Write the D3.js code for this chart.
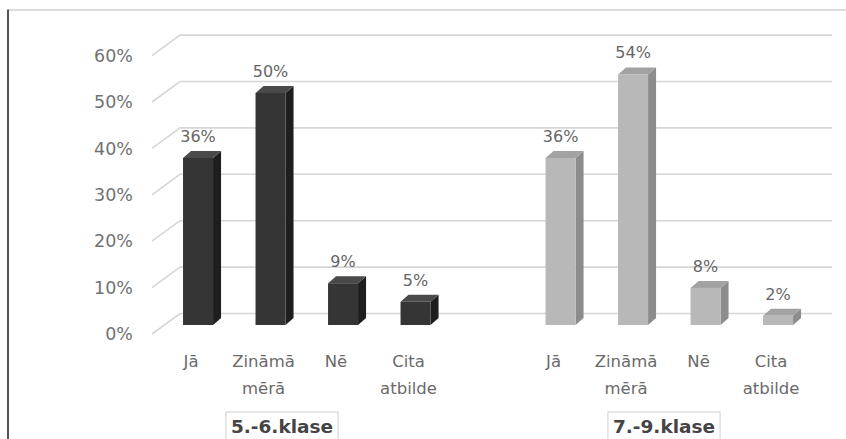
<!DOCTYPE html>
<html>
<head>
<meta charset="utf-8">
<script src="https://cdn.jsdelivr.net/npm/d3@7"></script>
<style>
  html, body { margin: 0; padding: 0; background: #fff; }
  svg { display: block; font-family: "DejaVu Sans", sans-serif; }
</style>
</head>
<body>
<svg id="chart" width="846" height="439"></svg>
<script>
// Survey answers by grade group (percent)
const categories = ["Jā", "Zināmā mērā", "Nē", "Cita atbilde"];
const groups = ["5.-6.klase", "7.-9.klase"];
const values56 = [36, 50, 9, 5];
const values79 = [36, 54, 8, 2];
const yTicks = [0, 10, 20, 30, 40, 50, 60];
const groupColors = [
  { front: "#353535", side: "#1e1e1e", top: "#4a4a4a" },
  { front: "#b8b8b8", side: "#8c8c8c", top: "#a2a2a2" }
];

const svg = d3.select("#chart");

// one slot per bar, with an empty slot between the two groups
const rows = [];
[values56, values79].forEach((vals, g) => {
  vals.forEach((v, i) => rows.push({ key: g + "-" + i, group: g, cat: categories[i], value: v }));
});
const slots = rows.filter(r => r.group === 0).map(r => r.key)
  .concat(["gap"], rows.filter(r => r.group === 1).map(r => r.key));

const x = d3.scaleBand().domain(slots).range([150.4, 825.7])
  .paddingInner(0.586).paddingOuter(0.45);
const y = d3.scaleLinear().domain([0, 60]).range([325, 46.6]);

// 3D offsets
const bdx = 8, bdy = -7;          // bar depth
const wallDx = 28;                // back wall left edge
const frontDy = 9, backDy = -11.5;
const gridRight = 832;

// frame
svg.append("line").attr("x1", 8).attr("x2", 846).attr("y1", 10).attr("y2", 10)
  .attr("stroke", "#d0d0d0").attr("stroke-width", 1.5);
svg.append("line").attr("x1", 8).attr("x2", 8).attr("y1", 9.5).attr("y2", 439)
  .attr("stroke", "#555").attr("stroke-width", 2);

// gridlines: side wall diagonal + back wall horizontal
const grid = svg.append("g").attr("fill", "none").attr("stroke", "#d6d6d6").attr("stroke-width", 1.6);
yTicks.forEach(t => {
  const yy = y(t);
  grid.append("path").attr("d",
    `M152,${yy + frontDy}L${152 + wallDx},${yy + backDy}L${gridRight},${yy + backDy}`);
});

// y axis labels on the front plane
const yAxis = d3.axisLeft(d3.scaleLinear().domain([0, 60]).range([325 + frontDy, 46.6 + frontDy]))
  .tickValues(yTicks).tickSize(0).tickPadding(0).tickFormat(d => d + "%");
svg.append("g").attr("transform", "translate(133,0)").call(yAxis)
  .call(g => g.select(".domain").remove())
  .call(g => g.selectAll("text").attr("fill", "#727272").attr("font-size", 17.5)
    .attr("font-family", "'DejaVu Sans', sans-serif"));

// bars
const bars = svg.append("g").selectAll("g.bar").data(rows).join("g").attr("class", "bar");
const w = x.bandwidth();
bars.append("path")
  .attr("d", d => {
    const x0 = x(d.key) + w, y0 = y(0), y1 = y(d.value);
    return `M${x0},${y1}L${x0 + bdx},${y1 + bdy}L${x0 + bdx},${y0 + bdy}L${x0},${y0}Z`;
  })
  .attr("fill", d => groupColors[d.group].side);
bars.append("path")
  .attr("d", d => {
    const x0 = x(d.key), y1 = y(d.value);
    return `M${x0},${y1}L${x0 + bdx},${y1 + bdy}L${x0 + w + bdx},${y1 + bdy}L${x0 + w},${y1}Z`;
  })
  .attr("fill", d => groupColors[d.group].top);
bars.append("rect")
  .attr("x", d => x(d.key)).attr("width", w)
  .attr("y", d => y(d.value)).attr("height", d => y(0) - y(d.value))
  .attr("fill", d => groupColors[d.group].front);

// value labels
bars.append("text")
  .attr("x", d => x(d.key) + w / 2)
  .attr("y", d => y(d.value) - 16)
  .attr("text-anchor", "middle").attr("font-size", 16).attr("fill", "#666")
  .text(d => d.value + "%");

// category labels (wrapped to two lines)
const catLabels = svg.append("g").selectAll("text").data(rows).join("text")
  .attr("x", d => x(d.key) + w / 2 - 7)
  .attr("y", 367)
  .attr("text-anchor", "middle").attr("font-size", 16.5).attr("fill", "#6a6a6a");
catLabels.each(function (d) {
  const words = d.cat.split(" ");
  const t = d3.select(this);
  words.forEach((wd, i) => {
    t.append("tspan").attr("x", x(d.key) + w / 2 - 7).attr("dy", i === 0 ? 0 : 27).text(wd);
  });
});

// group labels in boxes
const groupCenters = [282, 664];
groups.forEach((g, gi) => {
  const gg = svg.append("g");
  const txt = gg.append("text").attr("x", groupCenters[gi]).attr("y", 433)
    .attr("text-anchor", "middle").attr("font-size", 18.5).attr("font-weight", "bold")
    .attr("fill", "#444").text(g);
  const bb = txt.node().getBBox();
  gg.insert("rect", "text")
    .attr("x", bb.x - 5).attr("y", 412).attr("width", bb.width + 10).attr("height", 32)
    .attr("fill", "#fff").attr("stroke", "#cfcfcf").attr("stroke-width", 1);
});
</script>
</body>
</html>
